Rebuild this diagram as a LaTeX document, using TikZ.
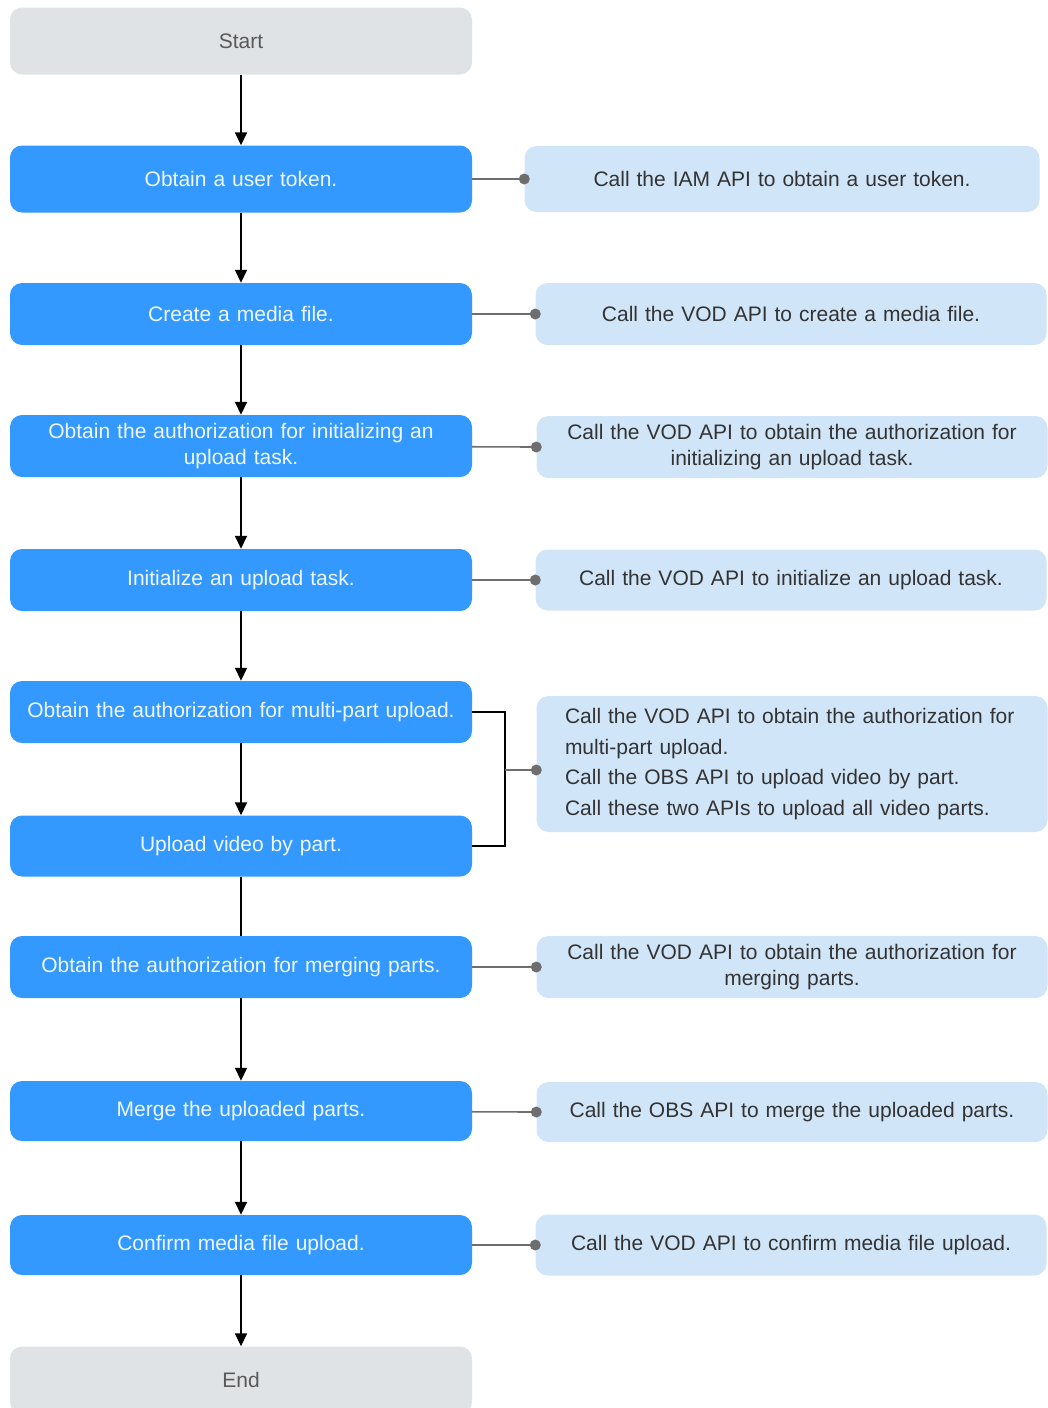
\documentclass[tikz,border=0pt]{standalone}
\usepackage{fontspec}
\setmainfont{Liberation Sans}
\usetikzlibrary{arrows.meta}
\definecolor{stepblue}{RGB}{51,153,255}
\definecolor{endgray}{RGB}{224,227,229}
\definecolor{apiblue}{RGB}{209,229,248}
\definecolor{txtgray}{RGB}{51,51,51}
\definecolor{lingray}{RGB}{110,110,110}
\tikzset{
  base/.style={rectangle, rounded corners=12pt, inner sep=0pt, align=center,
    font=\fontsize{21}{26}\selectfont},
  stepbox/.style={base, fill=stepblue, text=white!92!stepblue,
    minimum width=462pt, minimum height=62pt, text width=446pt},
  endbox/.style={base, fill=endgray, text=black!65,
    minimum width=462pt, minimum height=67pt, text width=440pt},
  apibox/.style={base, fill=apiblue, text=txtgray,
    minimum width=511pt, minimum height=62pt, text width=496pt},
  flow/.style={-{Triangle[width=12pt,length=13pt]}, line width=1.6pt, black},
  link/.style={line width=1.6pt, lingray},
  dot/.style={fill=lingray}
}
\begin{document}
\begin{tikzpicture}[x=1pt,y=-1pt]
  \useasboundingbox (0,0) rectangle (1048,1408);
  % steps
  \node[endbox] (start) at (241,41) {Start};
  \node[stepbox, minimum height=67pt] (tok) at (241,179) {Obtain a user token.};
  \node[stepbox] (med) at (241,314) {Create a media file.};
  \node[stepbox] (ini) at (241,446) {Obtain the authorization for initializing an\\upload task.};
  \node[stepbox] (task) at (241,580) {Initialize an upload task.};
  \node[stepbox] (mpa) at (241,712) {Obtain the authorization for multi-part upload.};
  \node[stepbox, minimum height=61pt] (upl) at (241,846) {Upload video by part.};
  \node[stepbox] (mrg) at (241,967) {Obtain the authorization for merging parts.};
  \node[stepbox, minimum height=60pt] (mup) at (241,1111) {Merge the uploaded parts.};
  \node[stepbox, minimum height=60pt] (cnf) at (241,1245) {Confirm media file upload.};
  \node[endbox] (end) at (241,1380) {End};
  % API calls
  \node[apibox, minimum width=515pt, minimum height=66pt] (r1) at (782,179) {Call the IAM API to obtain a user token.};
  \node[apibox] (r2) at (791,314) {Call the VOD API to create a media file.};
  \node[apibox] (r3) at (792,447) {Call the VOD API to obtain the authorization for\\initializing an upload task.};
  \node[apibox, minimum height=61pt] (r4) at (791,580) {Call the VOD API to initialize an upload task.};
  \node[apibox, minimum height=136pt, text width=454pt, align=left,
    font=\fontsize{21}{30.5}\selectfont] (r5) at (792,764)
    {Call the VOD API to obtain the authorization for\\multi-part upload.\\Call the OBS API to upload video by part.\\Call these two APIs to upload all video parts.};
  \node[apibox] (r6) at (792,967) {Call the VOD API to obtain the authorization for\\merging parts.};
  \node[apibox, minimum height=60pt] (r7) at (792,1112) {Call the OBS API to merge the uploaded parts.};
  \node[apibox, minimum height=61pt] (r8) at (791,1245) {Call the VOD API to confirm media file upload.};
  \coordinate (brk) at (505,770);
  \begin{scope}[flow]
    \draw (start) -- (tok);
    \draw (tok) -- (med);
    \draw (med) -- (ini);
    \draw (ini) -- (task);
    \draw (task) -- (mpa);
    \draw (mpa) -- (upl);
    \draw (mrg) -- (mup);
    \draw (mup) -- (cnf);
    \draw (cnf) -- (end);
  \end{scope}
  \draw[line width=1.6pt] (upl) -- (mrg);
  \draw[line width=1.6pt] (mpa.east) -| (brk) |- (upl.east);
  \begin{scope}[link]
    \draw (tok) -- (r1.west);
    \draw (med) -- (r2.west);
    \draw (ini) -- (r3.west);
    \draw (task) -- (r4.west);
    \draw (brk) -- (brk -| r5.west);
    \draw (mrg) -- (r6.west);
    \draw (mup) -- (r7.west);
    \draw (cnf) -- (r8.west);
  \end{scope}
  \foreach \r in {r1,r2,r3,r4,r6,r7,r8}
    \fill[dot] (\r.west) circle (5.5);
  \fill[dot] (brk -| r5.west) circle (5.5);
\end{tikzpicture}
\end{document}
